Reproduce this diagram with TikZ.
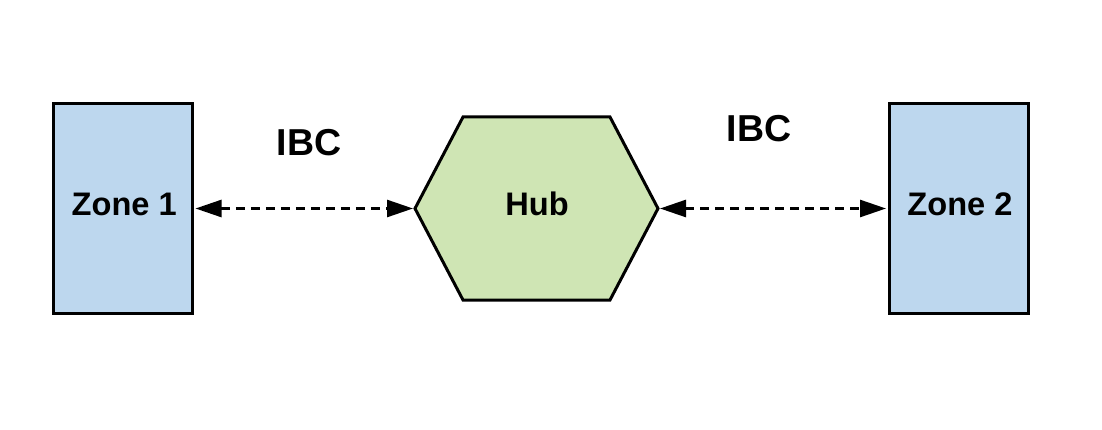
\documentclass[tikz,border=0pt]{standalone}
\usepackage{fontspec}
\setmainfont{Liberation Sans}
\usetikzlibrary{arrows.meta}
\definecolor{zoneblue}{HTML}{BDD7EE}
\definecolor{hubgreen}{HTML}{CFE5B4}
\begin{document}
\begin{tikzpicture}[x=1pt,y=-1pt,
  zonebox/.style={draw=black,fill=zoneblue,line width=3pt,minimum width=139pt,minimum height=210pt,inner sep=0pt},
  lbl/.style={inner sep=0pt,font=\bfseries\fontsize{32.6pt}{36pt}\selectfont},
  ibclbl/.style={inner sep=0pt,font=\bfseries\fontsize{37.5pt}{42pt}\selectfont},
  link/.style={line width=2.6pt,dash pattern=on 9pt off 6pt,{Triangle[length=26pt,width=17pt]}-{Triangle[length=26pt,width=17pt]}}
]
\useasboundingbox (0,0) rectangle (1102,430);
\fill[white] (0,0) rectangle (1102,430);
% zones
\node[zonebox] (z1) at (123,208.5) {};
\node[zonebox] (z2) at (958.5,208.5) {};
% hub hexagon
\coordinate (hL) at (415,208.5);
\coordinate (hR) at (658,208.5);
\draw[line width=3pt,fill=hubgreen,line join=miter]
  (hL) -- (463,117) -- (610,117) -- (hR) -- (610,300) -- (463,300) -- cycle;
% labels
\node[lbl] (t1) at (124.2,204.4) {Zone 1};
\node[lbl] (t2) at (960,204.4) {Zone 2};
\node[lbl] (th) at (537,204.2) {Hub};
\node[ibclbl] (i1) at (309,142.5) {IBC};
\node[ibclbl] (i2) at (759,128.3) {IBC};
% connectors
\coordinate (a1) at ([xshift=1.5pt]z1.east);
\coordinate (a2) at ([xshift=-2pt]hL);
\coordinate (a3) at ([xshift=2pt]hR);
\coordinate (a4) at ([xshift=-1.5pt]z2.west);
\draw[link] (a1) -- (a2);
\draw[link] (a3) -- (a4);
\end{tikzpicture}
\end{document}
